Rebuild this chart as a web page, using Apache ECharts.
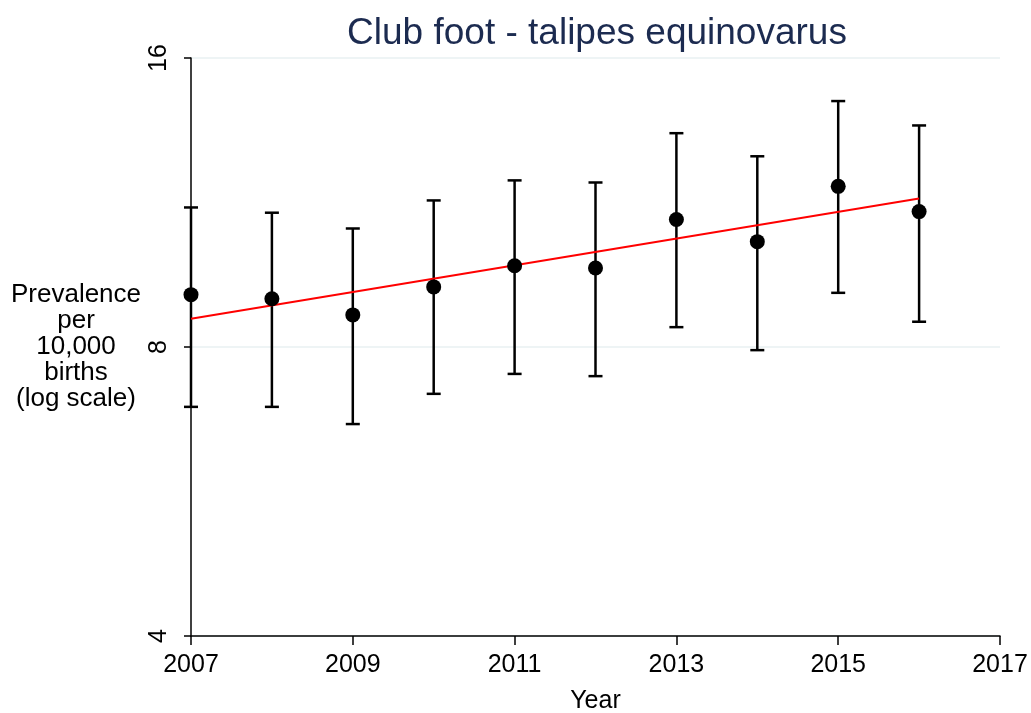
<!DOCTYPE html>
<html>
<head>
<meta charset="utf-8">
<script src="https://cdn.jsdelivr.net/npm/echarts@6/dist/echarts.min.js"></script>
<style>
  html, body { margin: 0; padding: 0; background: #fff; }
  #main { width: 1031px; height: 713px; }
</style>
</head>
<body>
<div id="main"></div>
<script>
// data
const years = [2007, 2008, 2009, 2010, 2011, 2012, 2013, 2014, 2015, 2016]
const prevalence = [9.07, 8.98, 8.64, 9.24, 9.72, 9.67, 10.86, 10.30, 11.76, 11.07]
const lower = [6.93, 6.93, 6.65, 7.15, 7.50, 7.46, 8.39, 7.94, 9.11, 8.50]
const upper = [11.18, 11.04, 10.63, 11.37, 11.93, 11.87, 13.36, 12.64, 14.43, 13.61]
const fitYears = [2007, 2016]
const fitValues = [8.56, 11.42]

const font = 'Liberation Sans, Arial, sans-serif'

const myChart = echarts.init(document.getElementById('main'))

myChart.setOption({
  animation: false,
  title: {
    text: 'Club foot - talipes equinovarus',
    left: 592,
    textAlign: 'center',
    top: 10,
    textStyle: {
      color: '#1c2b50',
      fontFamily: font,
      fontWeight: 'normal',
      fontSize: 37
    }
  },
  grid: { left: 191, right: 31, top: 58, bottom: 77, outerBoundsMode: 'none' },
  xAxis: {
    type: 'value',
    min: 2007,
    max: 2017,
    interval: 2,
    name: 'Year',
    nameLocation: 'middle',
    nameGap: 53,
    nameTextStyle: { color: '#000', fontFamily: font, fontSize: 25 },
    axisLine: { lineStyle: { color: '#000', width: 1.5 } },
    axisTick: { length: 9, lineStyle: { color: '#000', width: 1.5 } },
    axisLabel: {
      color: '#000',
      fontFamily: font,
      fontSize: 25,
      margin: 17,
      formatter: v => String(v)
    },
    splitLine: { show: false }
  },
  yAxis: {
    type: 'log',
    logBase: 2,
    min: 4,
    max: 16,
    name: 'Prevalence\nper\n10,000\nbirths\n(log scale)',
    nameLocation: 'middle',
    nameRotate: 0,
    nameGap: 115,
    nameTextStyle: {
      color: '#000',
      fontFamily: font,
      fontSize: 26,
      lineHeight: 26,
      align: 'center',
      verticalAlign: 'middle'
    },
    axisLine: { show: true, lineStyle: { color: '#000', width: 1.5 } },
    axisTick: { show: true, length: 7, lineStyle: { color: '#000', width: 1.5 } },
    axisLabel: { color: '#000', fontFamily: font, fontSize: 25, rotate: 90, margin: 19 },
    splitLine: {
      show: true,
      lineStyle: { color: '#e8f0f2', width: 1.5 }
    }
  },
  series: [
    {
      name: 'ci',
      type: 'custom',
      data: years.map((y, i) => [y, lower[i], upper[i]]),
      renderItem (params, api) {
        const lo = api.coord([api.value(0), api.value(1)])
        const hi = api.coord([api.value(0), api.value(2)])
        const cap = 7
        const style = { stroke: '#000', lineWidth: 2.5 }
        return {
          type: 'group',
          children: [
            { type: 'line', shape: { x1: lo[0], y1: lo[1], x2: hi[0], y2: hi[1] }, style },
            { type: 'line', shape: { x1: lo[0] - cap, y1: lo[1], x2: lo[0] + cap, y2: lo[1] }, style },
            { type: 'line', shape: { x1: hi[0] - cap, y1: hi[1], x2: hi[0] + cap, y2: hi[1] }, style }
          ]
        }
      },
      z: 2
    },
    {
      name: 'fit',
      type: 'line',
      data: fitYears.map((y, i) => [y, fitValues[i]]),
      showSymbol: false,
      lineStyle: { color: '#ff0000', width: 2 },
      z: 3
    },
    {
      name: 'prevalence',
      type: 'scatter',
      data: years.map((y, i) => [y, prevalence[i]]),
      symbol: 'circle',
      symbolSize: 15,
      itemStyle: { color: '#000', opacity: 1 },
      z: 4
    }
  ]
})
</script>
</body>
</html>
